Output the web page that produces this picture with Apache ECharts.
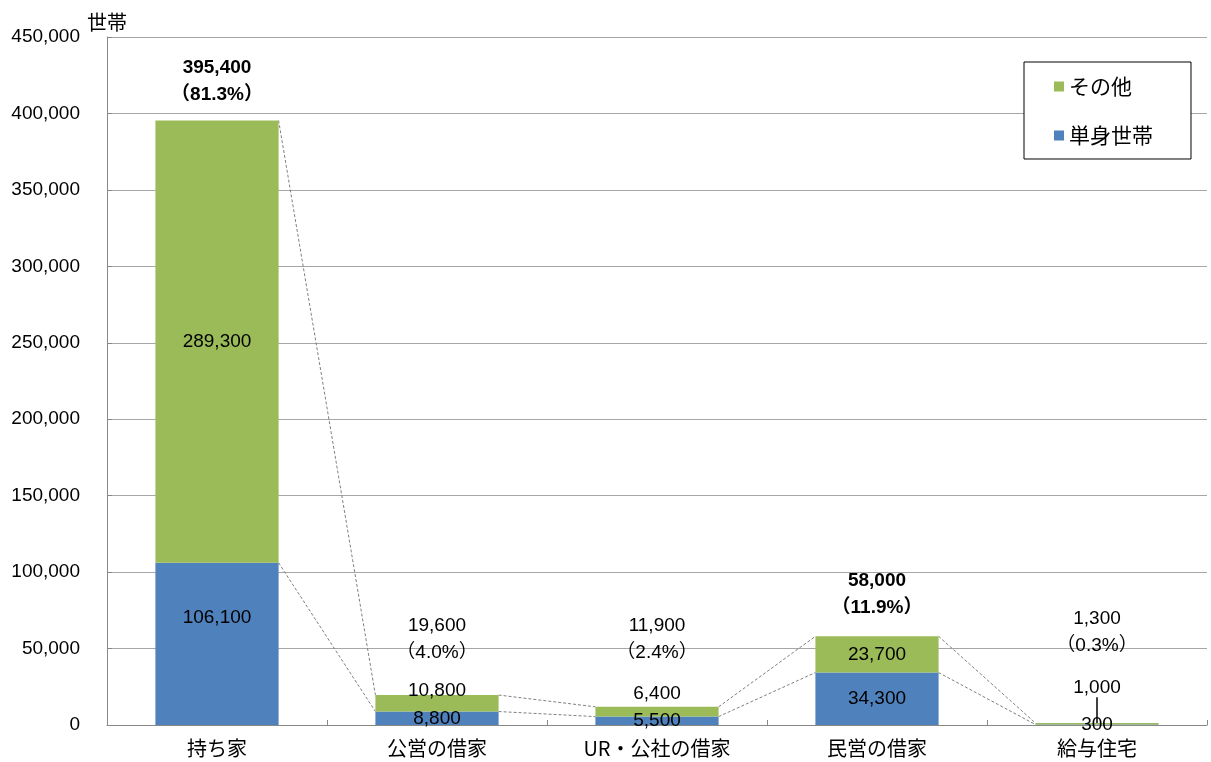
<!DOCTYPE html>
<html><head><meta charset="utf-8">
<script src="https://cdn.jsdelivr.net/npm/echarts@6/dist/echarts.min.js"></script>
<style>html,body{margin:0;padding:0;background:#fff}#c{width:1211px;height:762px}</style>
</head><body><div id="c"></div>
<script>
const categories = ['持ち家', '公営の借家', 'UR・公社の借家', '民営の借家', '給与住宅'];
const single = [106100, 8800, 5500, 34300, 300];
const other = [289300, 10800, 6400, 23700, 1000];
const totals = [395400, 19600, 11900, 58000, 1300];
const shares = ['81.3', '4.0', '2.4', '11.9', '0.3'];
const boldTotal = [true, false, false, true, false];
const yTicks = [0, 50000, 100000, 150000, 200000, 250000, 300000, 350000, 400000, 450000];

const FF = '"Liberation Sans", "Noto Sans CJK JP", sans-serif';
const JF = '"Noto Sans CJK JP", sans-serif';
const fmt = v => v.toLocaleString('en-US');

// label offsets (style only)
const singleDy = [-26, 0, 0, 0, 0];
const otherDy = [0, -13, -18, 0, -36];
const otherLeader = [false, false, false, false, true];
const totalDist = [12, 29, 41, 15, 64];

const lineData = [];
for (let i = 0; i < categories.length - 1; i++) {
  lineData.push([i, single[i], single[i + 1]]);
  lineData.push([i, single[i] + other[i], single[i + 1] + other[i + 1]]);
}

const chart = echarts.init(document.getElementById('c'));
chart.setOption({
  animation: false,
  textStyle: { fontFamily: FF },
  grid: { left: 107, right: 4, top: 37, bottom: 37, containLabel: false },
  legend: {
    data: ['その他', '単身世帯'],
    orient: 'vertical',
    left: 1024, top: 62,
    padding: [14, 38, 13, 30],
    itemGap: 28,
    itemWidth: 10, itemHeight: 10,
    icon: 'rect',
    backgroundColor: '#fff',
    borderColor: '#000', borderWidth: 1,
    textStyle: { fontSize: 21, color: '#000', fontFamily: JF }
  },
  xAxis: {
    type: 'category',
    data: categories,
    axisLine: { lineStyle: { color: '#888', width: 1 } },
    axisTick: { show: true, inside: true, length: 5, lineStyle: { color: '#888' } },
    axisLabel: { color: '#000', fontSize: 20, margin: 13, fontFamily: JF }
  },
  yAxis: {
    type: 'value',
    min: 0, max: 450000, interval: 50000,
    name: '世帯',
    nameGap: 5,
    nameTextStyle: { color: '#000', fontSize: 20, fontFamily: JF, align: 'center' },
    axisLine: { show: true, lineStyle: { color: '#888', width: 1 } },
    axisTick: { show: true, inside: true, length: 5, lineStyle: { color: '#888' } },
    splitLine: { lineStyle: { color: '#a6a6a6', width: 1 } },
    axisLabel: { color: '#000', fontSize: 19, margin: 27, formatter: v => yTicks.includes(v) ? fmt(v) : '' }
  },
  series: [
    {
      name: '単身世帯', type: 'bar', stack: 'a', barWidth: '56%',
      itemStyle: { color: '#4F81BD' },
      data: single,
      label: { show: true, position: 'inside', color: '#000', fontSize: 19, formatter: p => fmt(p.value) },
      labelLayout: p => ({ dy: singleDy[p.dataIndex] }),
      z: 3
    },
    {
      name: 'その他', type: 'bar', stack: 'a', barWidth: '56%',
      itemStyle: { color: '#9BBB59' },
      data: other.map((v, i) => ({ value: v, labelLine: { show: otherLeader[i] } })),
      label: { show: true, position: 'inside', color: '#000', fontSize: 19, formatter: p => fmt(p.value) },
      labelLayout: p => ({ dy: otherDy[p.dataIndex] }),
      labelLine: { show: false, lineStyle: { color: '#000', width: 1.5 } },
      z: 3
    },
    {
      name: 'total', type: 'scatter', symbolSize: 0, silent: true,
      itemStyle: { opacity: 1 },
      data: totals.map((v, i) => ({
        value: v,
        label: {
          distance: totalDist[i],
          color: '#000',
          fontWeight: boldTotal[i] ? 'bold' : 'normal'
        }
      })),
      label: {
        show: true, position: 'top', color: '#000', fontSize: 19, lineHeight: 27, align: 'center',
        formatter: p => fmt(p.value) + '\n（' + shares[p.dataIndex] + '%）'
      },
      z: 5
    },
    {
      name: 'lines', type: 'custom', silent: true,
      data: lineData,
      encode: { x: 0, y: [1, 2] },
      renderItem: (params, api) => {
        const i = api.value(0);
        const p1 = api.coord([i, api.value(1)]);
        const p2 = api.coord([i + 1, api.value(2)]);
        const hb = api.size([1, 0])[0] * 0.56 / 2;
        return {
          type: 'line',
          shape: { x1: p1[0] + hb, y1: p1[1], x2: p2[0] - hb, y2: p2[1] },
          style: { stroke: '#7f7f7f', lineWidth: 1, lineDash: [3, 2] }
        };
      },
      z: 2
    }
  ]
});
</script></body></html>
